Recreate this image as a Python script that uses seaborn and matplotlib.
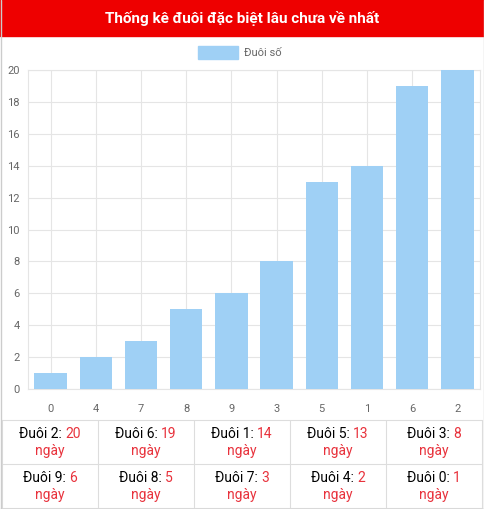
import matplotlib
matplotlib.use("Agg")
import matplotlib.pyplot as plt
import seaborn as sns
import pandas as pd
from matplotlib.patches import Rectangle

tails = ["0", "4", "7", "8", "9", "3", "5", "1", "6", "2"]
days = [1, 2, 3, 5, 6, 8, 13, 14, 19, 20]
table_tails = ["2", "6", "1", "5", "3", "9", "8", "7", "4", "0"]
table_days = [20, 19, 14, 13, 8, 6, 5, 3, 2, 1]

sns.set_style("white")
plt.rcParams['font.family'] = ['Roboto', 'DejaVu Sans']
W, H = 484, 509
fig = plt.figure(figsize=(W/100, H/100), dpi=100)
ax = fig.add_axes([28/W, 1-389/H, 452/W, 319/H])
df = pd.DataFrame({"tail": tails, "days": days})
sns.barplot(data=df, x="tail", y="days", color="#9fd0f5", saturation=1, width=0.72,
            linewidth=0, ax=ax, zorder=3)
ax.set_ylim(0, 20)
ax.set_yticks(range(0, 21, 2))
ax.grid(True, color="#e5e5e5", lw=0.8, zorder=0)
ax.set_axisbelow(True)
ax.set_xlabel(""); ax.set_ylabel("")
ax.tick_params(labelsize=8, colors="#666666", length=0, pad=6)
ax.tick_params(axis='x', length=5, color="#e5e5e5")
for s in ax.spines.values():
    s.set_color("#e5e5e5")

fig.patches.append(Rectangle((0, 1-36/H), 1, 36/H, transform=fig.transFigure, color="#ee0000"))
fig.text(0.5, 1-18/H, "Thống kê đuôi đặc biệt lâu chưa về nhất", color="white",
         ha="center", va="center", fontsize=11, fontweight="bold")
fig.patches.append(Rectangle((198/W, 1-59/H), 40/W, 13/H, transform=fig.transFigure,
                             facecolor="#9fd0f5", edgecolor="#9fd0f5"))
fig.text(244/W, 1-53/H, "Đuôi số", color="#666666", ha="left", va="center", fontsize=8)

x0, x1 = 2, 482
cw = (x1 - x0) / 5
rows = [(420, 464), (464, 508)]
for y in [420, 464, 508]:
    fig.add_artist(plt.Line2D([x0/W, x1/W], [1-y/H]*2, color="#dddddd", lw=0.8))
for i in range(6):
    x = x0 + i*cw
    fig.add_artist(plt.Line2D([x/W]*2, [1-420/H, 1-508/H], color="#dddddd", lw=0.8))
fig.add_artist(plt.Line2D([0.5/W]*2, [0, 1], color="#cccccc", lw=1))
fig.add_artist(plt.Line2D([483.5/W]*2, [0, 1], color="#cccccc", lw=1))
fig.add_artist(plt.Line2D([0, 1], [0.5/H]*2, color="#cccccc", lw=1))

r = fig.canvas.get_renderer()
red = "#e8323c"
for k, (t, d) in enumerate(zip(table_tails, table_days)):
    row, col = divmod(k, 5)
    cx = x0 + (col + 0.5)*cw
    ya, yb = rows[row]
    y1 = 1 - (ya + 14)/H
    y2 = 1 - (ya + 31)/H
    full = fig.text(0, 0, f"Đuôi {t}: {d}", fontsize=10)
    wf = full.get_window_extent(r).width
    full.remove()
    a = fig.text((cx - wf/2)/W, y1, f"Đuôi {t}: ", fontsize=10, color="black", va="center", ha="left")
    wa = a.get_window_extent(r).width
    fig.text((cx - wf/2 + wa)/W, y1, str(d), fontsize=10, color=red, va="center", ha="left")
    fig.text(cx/W, y2, "ngày", fontsize=10, color=red, va="center", ha="center")

fig.savefig("out.png", dpi=100)
